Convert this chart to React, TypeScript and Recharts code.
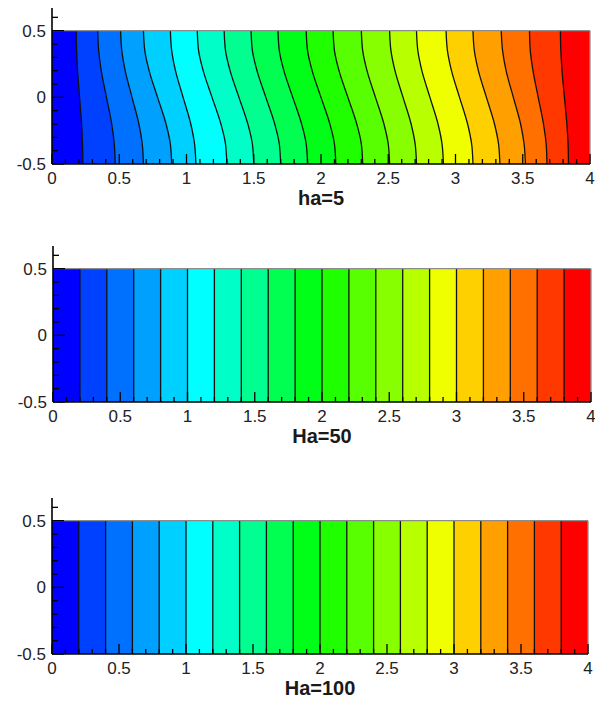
import React from 'react';
import { ComposedChart, Area, XAxis, YAxis, ReferenceLine } from 'recharts';

// 20 colour bands, left (blue) to right (red)
const bandColors = [
  '#0000ff', '#0040ff', '#0070ff', '#00a0ff', '#00d0ff',
  '#00ffff', '#00ffc8', '#00ff90', '#00ff50', '#00ff18',
  '#20ff00', '#58ff00', '#88ff00', '#b8ff00', '#f0ff00',
  '#ffd000', '#ffa000', '#ff7000', '#ff3800', '#ff0000',
];

const xTicks = [
  0, 0.1, 0.2, 0.3, 0.4, 0.5, 0.6, 0.7, 0.8, 0.9,
  1, 1.1, 1.2, 1.3, 1.4, 1.5, 1.6, 1.7, 1.8, 1.9,
  2, 2.1, 2.2, 2.3, 2.4, 2.5, 2.6, 2.7, 2.8, 2.9,
  3, 3.1, 3.2, 3.3, 3.4, 3.5, 3.6, 3.7, 3.8, 3.9, 4,
];
const yTicks = [-0.5, -0.4, -0.3, -0.2, -0.1, 0, 0.1, 0.2, 0.3, 0.4, 0.5, 0.6];

// ha=5 : each contour line, x read at these heights
const yLevelsHa5 = [0.5, 0.35, 0.2, 0, -0.2, -0.35, -0.5];
const contoursHa5 = [
  [0.18, 0.183, 0.19, 0.205, 0.22, 0.227, 0.23],
  [0.34, 0.347, 0.366, 0.405, 0.444, 0.463, 0.47],
  [0.51, 0.519, 0.544, 0.595, 0.646, 0.671, 0.68],
  [0.68, 0.69, 0.722, 0.785, 0.848, 0.88, 0.89],
  [0.88, 0.89, 0.918, 0.975, 1.032, 1.06, 1.07],
  [1.08, 1.09, 1.124, 1.19, 1.256, 1.29, 1.3],
  [1.28, 1.29, 1.324, 1.39, 1.456, 1.49, 1.5],
  [1.48, 1.49, 1.524, 1.59, 1.656, 1.69, 1.7],
  [1.68, 1.69, 1.724, 1.79, 1.856, 1.89, 1.9],
  [1.89, 1.9, 1.934, 2.0, 2.066, 2.1, 2.11],
  [2.09, 2.1, 2.134, 2.2, 2.266, 2.3, 2.31],
  [2.3, 2.31, 2.342, 2.405, 2.468, 2.5, 2.51],
  [2.51, 2.52, 2.55, 2.61, 2.67, 2.7, 2.71],
  [2.71, 2.72, 2.75, 2.81, 2.87, 2.9, 2.91],
  [2.93, 2.94, 2.97, 3.03, 3.09, 3.12, 3.13],
  [3.13, 3.14, 3.17, 3.23, 3.29, 3.32, 3.33],
  [3.34, 3.35, 3.376, 3.43, 3.484, 3.51, 3.52],
  [3.55, 3.556, 3.576, 3.615, 3.654, 3.674, 3.68],
  [3.78, 3.783, 3.792, 3.81, 3.828, 3.837, 3.84],
];

// Ha=50 and Ha=100 : straight vertical contour lines
const yLevelsFlat = [0.5, -0.5];
const contoursHa50 = [
  0.2, 0.4, 0.6, 0.8, 1.0, 1.2, 1.4, 1.6, 1.8, 2.0,
  2.2, 2.4, 2.6, 2.8, 3.0, 3.2, 3.4, 3.6, 3.8,
];
const contoursHa100 = [
  0.2, 0.4, 0.6, 0.8, 1.0, 1.2, 1.4, 1.6, 1.8, 2.0,
  2.2, 2.4, 2.6, 2.8, 3.0, 3.2, 3.4, 3.6, 3.8,
];

const titles = ['ha=5', 'Ha=50', 'Ha=100'];

const FONT = '"Liberation Sans", Arial, sans-serif';

function bentRows(levels: number[], lines: number[][]) {
  return levels.map((y, i) => {
    const row: Record<string, number> = { y };
    lines.forEach((line, k) => {
      row['e' + k] = line[i];
    });
    row['e' + lines.length] = 4;
    return row;
  });
}

function flatRows(levels: number[], lines: number[]) {
  return levels.map((y) => {
    const row: Record<string, number> = { y };
    lines.forEach((x, k) => {
      row['e' + k] = x;
    });
    row['e' + lines.length] = 4;
    return row;
  });
}

const isMajor = (v: number) => Math.abs(v * 2 - Math.round(v * 2)) < 1e-6;

function XTick(props: any) {
  const { x, y, payload } = props;
  const v = payload.value;
  const major = isMajor(v);
  return (
    <g>
      <line x1={x} y1={y} x2={x} y2={y - (major ? 10 : 5)} stroke="#000" strokeWidth={1.3} />
      {major && (
        <text x={x} y={y + 20} textAnchor="middle" fontSize={17} fontFamily={FONT} fill="#222">
          {String(v)}
        </text>
      )}
    </g>
  );
}

function YTick(props: any) {
  const { x, y, payload } = props;
  const v = payload.value;
  const major = isMajor(v);
  return (
    <g>
      <line x1={x} y1={y} x2={x + (major ? 12 : 6)} y2={y} stroke="#000" strokeWidth={1.3} />
      {major && (
        <text x={x - 6} y={y} dy="0.36em" textAnchor="end" fontSize={17} fontFamily={FONT} fill="#222">
          {String(v)}
        </text>
      )}
    </g>
  );
}

function Panel({ rows, title, top, padTop, left, right }: any) {
  return (
    <div style={{ position: 'absolute', top, left: 0 }}>
      <ComposedChart
        width={595}
        height={padTop + 156 + 50}
        data={rows}
        layout="vertical"
        margin={{ top: padTop, right, left: 0, bottom: 0 }}
      >
        {bandColors.map((_, i) => {
          const k = bandColors.length - 1 - i;
          return (
            <Area
              key={k}
              type="monotone"
              dataKey={'e' + k}
              fill={bandColors[k]}
              fillOpacity={1}
              stroke={k === bandColors.length - 1 ? 'none' : '#111'}
              strokeWidth={1.3}
              dot={false}
              activeDot={false}
              isAnimationActive={false}
            />
          );
        })}
        <ReferenceLine y={0.5} stroke="#8c8c8c" strokeWidth={1.3} />
        <ReferenceLine
          segment={[{ x: 4, y: -0.5 }, { x: 4, y: 0.5 }]}
          stroke="#8c8c8c"
          strokeWidth={1.3}
        />
        <XAxis
          type="number"
          domain={[0, 4]}
          ticks={xTicks}
          interval={0}
          height={50}
          tickSize={0}
          tickMargin={0}
          tickLine={false}
          axisLine={{ stroke: '#000', strokeWidth: 1.6 }}
          tick={<XTick />}
          label={{
            value: title,
            position: 'insideBottom',
            offset: 9,
            style: { fontSize: 20, fontWeight: 'bold', fontFamily: FONT, fill: '#1a1a1a' },
          }}
        />
        <YAxis
          type="number"
          dataKey="y"
          domain={[-0.5, 0.67]}
          reversed
          ticks={yTicks}
          interval={0}
          width={left}
          tickSize={0}
          tickMargin={0}
          tickLine={false}
          axisLine={{ stroke: '#000', strokeWidth: 1.6 }}
          tick={<YTick />}
        />
      </ComposedChart>
    </div>
  );
}

export default function App() {
  return (
    <div style={{ position: 'absolute', left: 0, top: 0, width: 595, height: 704, background: '#fff' }}>
      <Panel rows={bentRows(yLevelsHa5, contoursHa5)} title={titles[0]} top={0} padTop={8} left={52} right={5} />
      <Panel rows={flatRows(yLevelsFlat, contoursHa50)} title={titles[1]} top={240} padTop={6} left={53} right={4} />
      <Panel rows={flatRows(yLevelsFlat, contoursHa100)} title={titles[2]} top={490} padTop={8} left={52} right={7} />
    </div>
  );
}
